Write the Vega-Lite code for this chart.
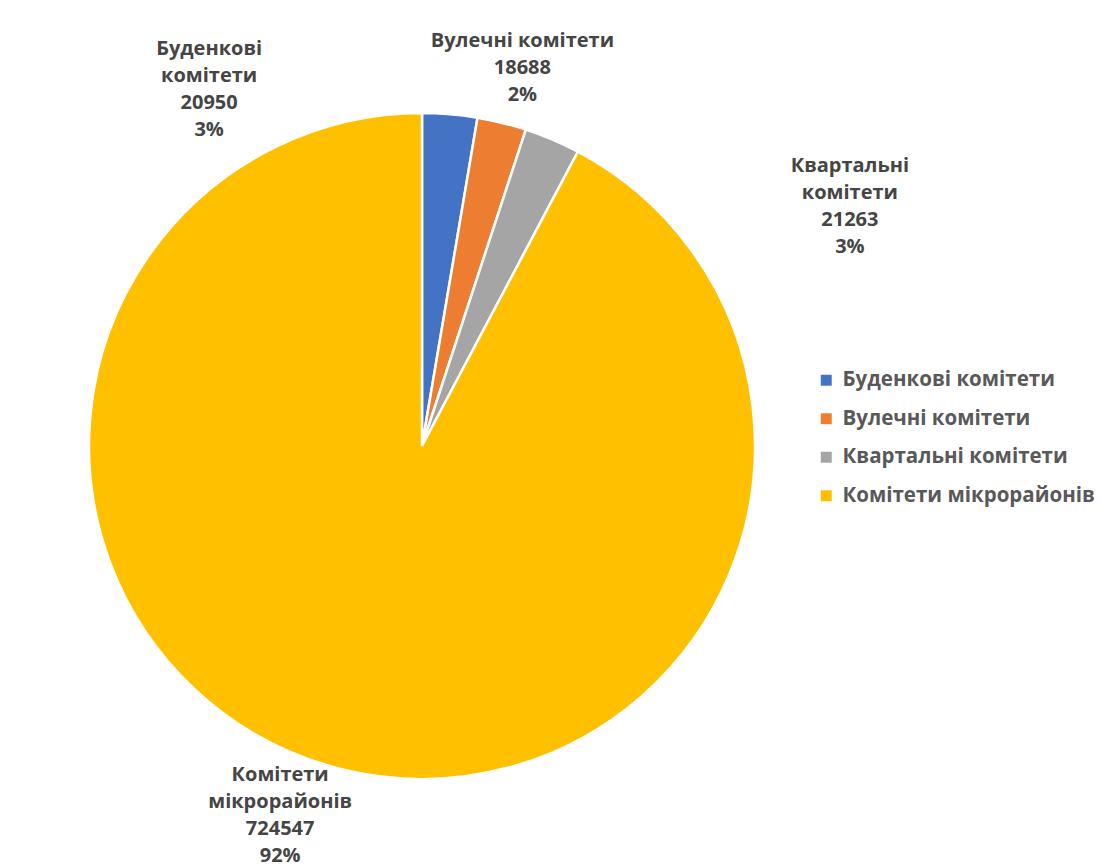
{
  "$schema": "https://vega.github.io/schema/vega-lite/v6.json",
  "width": 844,
  "height": 892,
  "autosize": "none",
  "padding": {"left": 0, "top": 0, "right": 276, "bottom": 0},
  "background": "white",
  "config": {"view": {"stroke": null}, "font": "Open Sans"},
  "data": {"values": [
    {"cat": "Буденкові комітети", "label": "Буденкові\nкомітети", "value": 20950},
    {"cat": "Вулечні комітети", "label": "Вулечні комітети", "value": 18688},
    {"cat": "Квартальні комітети", "label": "Квартальні\nкомітети", "value": 21263},
    {"cat": "Комітети мікрорайонів", "label": "Комітети\nмікрорайонів", "value": 724547}
  ]},
  "transform": [
    {"joinaggregate": [{"op": "sum", "field": "value", "as": "total"}]},
    {"stack": "value", "groupby": [], "sort": [{"field": "cat", "order": "ascending"}], "as": ["v0", "v1"]},
    {"calculate": "(datum.v0 + datum.v1) / 2", "as": "mid"},
    {"calculate": "datum.label + '\\n' + datum.value + '\\n' + format(datum.value / datum.total, '.0%')", "as": "txt"}
  ],
  "resolve": {"scale": {"theta": "shared"}},
  "layer": [
    {
      "mark": {"type": "arc", "outerRadius": 333, "stroke": "white", "strokeWidth": 2.5},
      "encoding": {
        "theta": {"field": "v0", "type": "quantitative", "stack": null, "scale": {"domain": [0, 785448]}},
        "theta2": {"field": "v1"},
        "color": {
          "field": "cat",
          "type": "nominal",
          "scale": {
            "domain": ["Буденкові комітети", "Вулечні комітети", "Квартальні комітети", "Комітети мікрорайонів"],
            "range": ["#4472C4", "#ED7D31", "#A5A5A5", "#FFC000"]
          },
          "legend": {
            "orient": "none",
            "legendX": 816,
            "legendY": 370,
            "title": null,
            "symbolType": "square",
            "symbolSize": 120,
            "symbolStrokeWidth": 0,
            "labelFontSize": 20.5,
            "labelFont": "Open Sans",
            "labelFontWeight": "bold",
            "labelColor": "#595959",
            "labelOffset": 6,
            "rowPadding": 17.5,
            "labelLimit": 400
          }
        }
      }
    },
    {
      "transform": [{"filter": "datum.cat == 'Буденкові комітети'"}],
      "mark": {"type": "text", "radius": 360, "dx": -243, "dy": -38, "fontSize": 20, "fontWeight": "bold", "color": "#454545", "lineBreak": "\n", "lineHeight": 27},
      "encoding": {"theta": {"field": "mid", "type": "quantitative", "stack": null, "scale": {"domain": [0, 785448]}}, "text": {"field": "txt"}}
    },
    {
      "transform": [{"filter": "datum.cat == 'Вулечні комітети'"}],
      "mark": {"type": "text", "radius": 360, "dx": 14, "dy": -56, "fontSize": 20, "fontWeight": "bold", "color": "#454545", "lineBreak": "\n", "lineHeight": 27},
      "encoding": {"theta": {"field": "mid", "type": "quantitative", "stack": null, "scale": {"domain": [0, 785448]}}, "text": {"field": "txt"}}
    },
    {
      "transform": [{"filter": "datum.cat == 'Квартальні комітети'"}],
      "mark": {"type": "text", "radius": 360, "dx": 287, "dy": 51, "fontSize": 20, "fontWeight": "bold", "color": "#454545", "lineBreak": "\n", "lineHeight": 27},
      "encoding": {"theta": {"field": "mid", "type": "quantitative", "stack": null, "scale": {"domain": [0, 785448]}}, "text": {"field": "txt"}}
    },
    {
      "transform": [{"filter": "datum.cat == 'Комітети мікрорайонів'"}],
      "mark": {"type": "text", "radius": 360, "dx": -55, "dy": -20, "fontSize": 20, "fontWeight": "bold", "color": "#454545", "lineBreak": "\n", "lineHeight": 27},
      "encoding": {"theta": {"field": "mid", "type": "quantitative", "stack": null, "scale": {"domain": [0, 785448]}}, "text": {"field": "txt"}}
    }
  ]
}
